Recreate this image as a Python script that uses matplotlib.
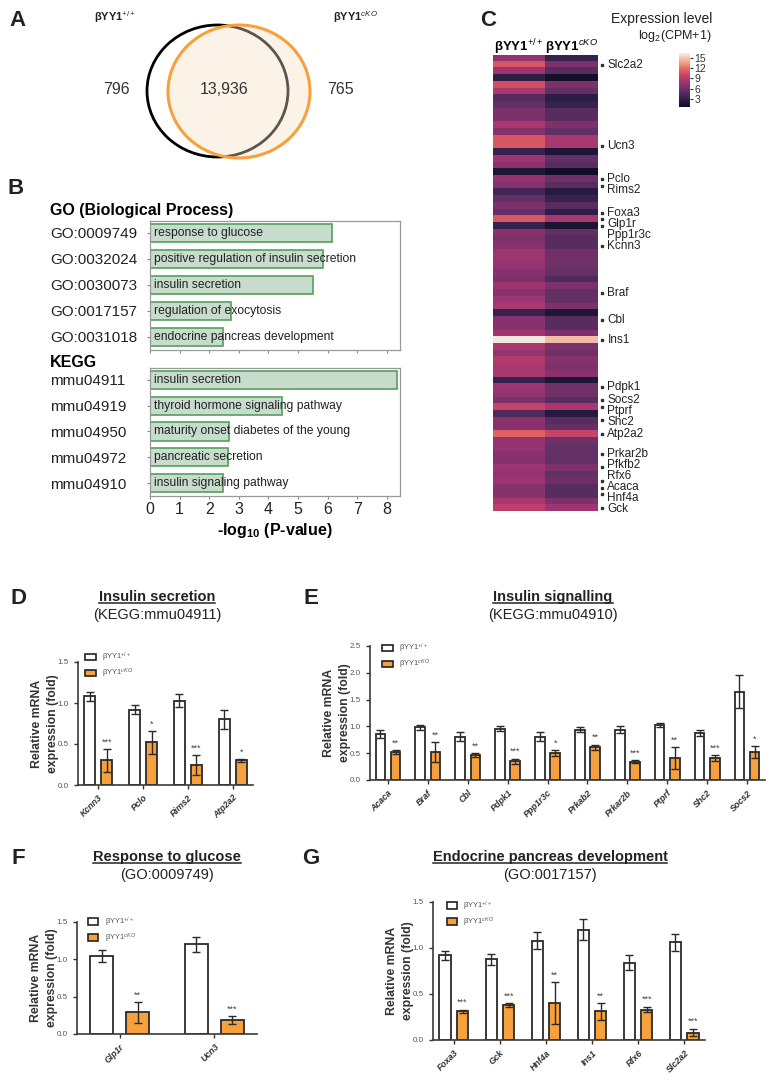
import numpy as np
import matplotlib
matplotlib.use("Agg")
import matplotlib.pyplot as plt
from matplotlib.colors import LinearSegmentedColormap
from matplotlib.patches import Ellipse, Patch
from matplotlib.lines import Line2D
from matplotlib.transforms import blended_transform_factory

plt.rcParams['font.family'] = ['Liberation Sans', 'DejaVu Sans']
plt.rcParams['mathtext.fontset'] = 'custom'
plt.rcParams['mathtext.rm'] = 'Liberation Sans'
plt.rcParams['mathtext.it'] = 'Liberation Sans:italic'
plt.rcParams['mathtext.bf'] = 'Liberation Sans:bold'

WT_LABEL = "βYY1$^{+/+}$"
KO_LABEL = "βYY1$^{cKO}$"
ORANGE = '#f7a03e'

# --- A: Venn counts
only_wt = 796
shared = 13936
only_ko = 765

# --- B: enrichment
go_ids = ["GO:0009749", "GO:0032024", "GO:0030073", "GO:0017157", "GO:0031018"]
go_terms = ["response to glucose", "positive regulation of insulin secretion",
            "insulin secretion", "regulation of exocytosis", "endocrine pancreas development"]
go_vals = [6.14, 5.86, 5.5, 2.74, 2.48]
kegg_ids = ["mmu04911", "mmu04919", "mmu04950", "mmu04972", "mmu04910"]
kegg_terms = ["insulin secretion", "thyroid hormone signaling pathway",
              "maturity onset diabetes of the young", "pancreatic secretion",
              "insulin signaling pathway"]
kegg_vals = [8.36, 4.45, 2.68, 2.63, 2.48]

# --- C: heatmap, log2(CPM+1), one value per row
hm_wt = [7.5, 11, 8, 3, 10.5, 8.5, 5, 5.5, 6.5, 6.5,
         8.5, 7, 11, 11, 3.5, 8, 7, 2, 7.5, 7,
         4, 5.5, 6.5, 5.5, 11, 3.5, 7, 6.5, 7, 8,
         8, 7.5, 7, 6.5, 8, 7, 8, 8.5, 3.5, 7,
         7, 8, 16, 8.5, 7.5, 9, 8.5, 8.5, 3.5, 8,
         7.5, 6.5, 10, 4.5, 7, 7, 11.5, 7.5, 7.5, 7,
         7, 8, 7.5, 8, 7, 7, 8.5, 9.5]
hm_ko = [3.5, 6.5, 5, 1.2, 6.5, 5.5, 2.8, 3.5, 5, 5,
         6.5, 5.5, 8.5, 8.5, 2, 5.5, 5, 1, 6, 5,
         2.5, 3.5, 5, 3, 8.5, 1.8, 5.5, 5, 5, 6,
         6, 6, 5.5, 4.5, 6.5, 5.5, 5.5, 6.5, 2, 5,
         5, 6.5, 14.5, 6.5, 6, 7, 6.5, 7, 2, 6,
         6, 5, 8.5, 2.5, 5, 5.5, 10, 6, 5.5, 5.5,
         5.5, 6.5, 5.5, 6, 5, 5, 6.5, 8]
label_genes = ["Slc2a2", "Ucn3", "Pclo", "Rims2", "Foxa3", "Glp1r", "Ppp1r3c", "Kcnn3",
               "Braf", "Cbl", "Ins1", "Pdpk1", "Socs2", "Ptprf", "Shc2", "Atp2a2",
               "Prkar2b", "Pfkfb2", "Rfx6", "Acaca", "Hnf4a", "Gck"]
label_rows = [1, 13, 18, 19, 23, 24, 25, 28,
              35, 39, 42, 49, 51, 52, 54, 56,
              59, 61, 63, 64, 65, 67]

# --- D: insulin secretion qPCR
d_genes = ["Kcnn3", "Pclo", "Rims2", "Atp2a2"]
d_wt = [1.08, 0.92, 1.03, 0.80]
d_wt_sd = [0.06, 0.06, 0.08, 0.12]
d_ko = [0.30, 0.52, 0.24, 0.30]
d_ko_sd = [0.14, 0.14, 0.12, 0.02]
d_sig = ["***", "*", "***", "*"]

# --- E: insulin signalling qPCR
e_genes = ["Acaca", "Braf", "Cbl", "Pdpk1", "Ppp1r3c", "Prkab2", "Prkar2b", "Ptprf", "Shc2", "Socs2"]
e_wt = [0.86, 0.98, 0.81, 0.96, 0.81, 0.94, 0.94, 1.02, 0.88, 1.65]
e_wt_sd = [0.08, 0.05, 0.09, 0.05, 0.09, 0.05, 0.07, 0.04, 0.06, 0.30]
e_ko = [0.52, 0.52, 0.46, 0.35, 0.50, 0.61, 0.34, 0.41, 0.41, 0.52]
e_ko_sd = [0.04, 0.18, 0.04, 0.05, 0.06, 0.05, 0.03, 0.20, 0.05, 0.11]
e_sig = ["**", "**", "**", "***", "*", "**", "***", "**", "***", "*"]

# --- F: response to glucose qPCR
f_genes = ["Glp1r", "Ucn3"]
f_wt = [1.05, 1.20]
f_wt_sd = [0.08, 0.10]
f_ko = [0.29, 0.19]
f_ko_sd = [0.14, 0.05]
f_sig = ["**", "***"]

# --- G: endocrine pancreas development qPCR
g_genes = ["Foxa3", "Gck", "Hnf4a", "Ins1", "Rfx6", "Slc2a2"]
g_wt = [0.92, 0.88, 1.08, 1.20, 0.84, 1.06]
g_wt_sd = [0.05, 0.06, 0.09, 0.11, 0.08, 0.09]
g_ko = [0.31, 0.38, 0.40, 0.31, 0.33, 0.08]
g_ko_sd = [0.02, 0.02, 0.23, 0.09, 0.03, 0.04]
g_sig = ["***", "***", "**", "**", "***", "***"]

W, H = 772, 1080
fig = plt.figure(figsize=(W / 100, H / 100), dpi=100)


def axes_px(x0, y0, x1, y1):
    return fig.add_axes([x0 / W, 1 - y1 / H, (x1 - x0) / W, (y1 - y0) / H])


def text_px(x, y, s, **kw):
    return fig.text(x / W, 1 - y / H, s, **kw)


for letter, x, y in [("A", 18, 20), ("B", 16, 188), ("C", 488, 20),
                     ("D", 18, 598), ("E", 311, 598), ("F", 18, 858), ("G", 311, 858)]:
    text_px(x, y, letter, fontsize=16, fontweight='bold', ha='center', va='center', color='#222')

# ---------------- A: Venn
av = axes_px(0, 0, 480, 170)
av.set_xlim(0, 480)
av.set_ylim(170, 0)
av.axis('off')
av.add_patch(Ellipse((217.5, 91), 141, 132, fill=False, ec='black', lw=2, zorder=1))
av.add_patch(Ellipse((239, 91.5), 142, 133, fc=(0.97, 0.88, 0.77), alpha=0.38, ec='none', zorder=2))
av.add_patch(Ellipse((239, 91.5), 142, 133, fill=False, ec=ORANGE, lw=2.2, zorder=3))
av.text(116, 90, f"{only_wt}", fontsize=11.5, ha='center', va='center', color='#333')
av.text(224, 90, f"{shared:,}", fontsize=11.5, ha='center', va='center', color='#333')
av.text(340, 90, f"{only_ko}", fontsize=11.5, ha='center', va='center', color='#333')
av.text(115, 17, WT_LABEL, fontsize=8, fontweight='bold', ha='center', va='center', color='#222')
av.text(355, 17, KO_LABEL, fontsize=8, fontweight='bold', ha='center', va='center', color='#222')


# ---------------- B: enrichment bars
def enrich(box, ids, terms, vals, bottom):
    ax = axes_px(*box)
    y = np.arange(len(ids))
    ax.barh(y, vals, height=0.7, color='#c7dccd', edgecolor='#55a05c', lw=1.2)
    ax.set_xlim(0, 8.45)
    ax.set_ylim(len(ids) - 0.5, -0.46)
    for yi, t in zip(y, terms):
        ax.text(0.15, yi, t, va='center', fontsize=8.7, color='#222')
    ax.set_yticks(y, ids)
    ax.tick_params(axis='y', length=2, pad=70, labelsize=11, colors='#888', labelcolor='#222')
    for lbl in ax.get_yticklabels():
        lbl.set_ha('left')
    ax.set_xticks(range(9))
    ax.tick_params(axis='x', length=2, colors='#888', labelcolor='#222', labelsize=11.5,
                   labelbottom=bottom, pad=2)
    for s in ax.spines.values():
        s.set_color('#999')
        s.set_linewidth(0.9)
    return ax


enrich((150, 221, 400, 350), go_ids, go_terms, go_vals, False)
axk = enrich((150, 368, 400, 496), kegg_ids, kegg_terms, kegg_vals, True)
axk.set_xlabel(r"-log$_{\bf 10}$ (P-value)", fontsize=11.5, fontweight='bold', labelpad=3)
text_px(50, 210, "GO (Biological Process)", fontsize=11.5, fontweight='bold', va='center')
text_px(50, 362, "KEGG", fontsize=11.5, fontweight='bold', va='center')

# ---------------- C: heatmap
cmap = LinearSegmentedColormap.from_list("expr", [
    (0.0, '#0f0d26'), (0.15, '#30204a'), (0.3, '#633066'), (0.45, '#9a3471'),
    (0.58, '#c4416a'), (0.7, '#e2655f'), (0.82, '#f09e82'), (1.0, '#f7efe6')])
ah = axes_px(493, 55, 598, 511)
im = ah.imshow(np.column_stack([hm_wt, hm_ko]), aspect='auto', cmap=cmap,
               vmin=0.8, vmax=16.3, interpolation='nearest')
ah.set_xticks([])
ah.set_yticks([])
for s in ah.spines.values():
    s.set_visible(False)
text_px(519, 47, WT_LABEL, fontsize=9.5, fontweight='bold', ha='center', va='center')
text_px(572, 47, KO_LABEL, fontsize=9.5, fontweight='bold', ha='center', va='center')

# simple label repel
pos = np.array(label_rows, dtype=float)
gap = 1.65
for i in range(1, len(pos)):
    pos[i] = max(pos[i], pos[i - 1] + gap)
pos[-1] = min(pos[-1], len(hm_wt) - 0.8)
for i in range(len(pos) - 2, -1, -1):
    pos[i] = min(pos[i], pos[i + 1] - gap)

trans = blended_transform_factory(ah.transAxes, ah.transData)
for g, r, ty in zip(label_genes, label_rows, pos):
    ah.plot(1.04, r, 's', ms=2, color='#333', transform=trans, clip_on=False)
    ah.text(1.09, ty, g, transform=trans, va='center', fontsize=8.5, color='#222')

cax = axes_px(679, 53, 690, 107)
cb = fig.colorbar(im, cax=cax, ticks=[3, 6, 9, 12, 15])
cb.outline.set_visible(False)
cax.tick_params(labelsize=7.5, length=2, pad=1, colors='#333')
text_px(712, 19, "Expression level", fontsize=10, ha='right', va='center', color='#222')
text_px(712, 36, "log$_2$(CPM+1)", fontsize=9, ha='right', va='center', color='#222')


# ---------------- D-G: qPCR bars
def qpcr(box, genes, wt, wt_sd, ko, ko_sd, sig, ymax, ylab_x, leg_xy):
    ax = axes_px(*box)
    x = np.arange(len(genes))
    ekw = dict(ecolor='#2a2a2a', elinewidth=1, capsize=3, capthick=1)
    ax.bar(x - 0.19, wt, 0.24, yerr=wt_sd, color='white', edgecolor='#2a2a2a', lw=1.3,
           error_kw=ekw, label=WT_LABEL)
    ax.bar(x + 0.19, ko, 0.24, yerr=ko_sd, color=ORANGE, edgecolor='#2a2a2a', lw=1.3,
           error_kw=ekw, label=KO_LABEL)
    for xi, v, e, s in zip(x, ko, ko_sd, sig):
        ax.text(xi + 0.19, v + e + 0.03 * ymax / 1.5, s, ha='center', va='bottom',
                fontsize=6.5, color='#444')
    ax.set_xlim(-0.45, len(genes) - 0.55)
    ax.set_ylim(0, ymax)
    ax.set_yticks(np.arange(0, ymax + 0.01, 0.5))
    ax.yaxis.set_major_formatter(matplotlib.ticker.FormatStrFormatter('%.1f'))
    ax.set_xticks(x, genes)
    for lbl in ax.get_xticklabels():
        lbl.set_rotation(45)
        lbl.set_ha('right')
        lbl.set_rotation_mode('anchor')
        lbl.set_fontstyle('italic')
        lbl.set_fontweight('bold')
    ax.tick_params(axis='x', labelsize=6.4, length=3, width=1, colors='#333', pad=3)
    ax.tick_params(axis='y', labelsize=5.8, length=3, width=1, colors='#333', labelcolor='#555')
    for s in ['top', 'right']:
        ax.spines[s].set_visible(False)
    for s in ['left', 'bottom']:
        ax.spines[s].set_color('#3a3a3a')
        ax.spines[s].set_linewidth(1.2)
    handles = [Patch(facecolor='white', edgecolor='#222', lw=1.2, label=WT_LABEL),
               Patch(facecolor=ORANGE, edgecolor='#222', lw=1.2, label=KO_LABEL)]
    leg = ax.legend(handles=handles, loc='upper left', bbox_to_anchor=leg_xy, frameon=False,
                    fontsize=5.5, handlelength=1.4, handleheight=0.9, labelspacing=0.35,
                    borderpad=0, borderaxespad=0, handletextpad=0.8)
    for t in leg.get_texts():
        t.set_color('#555')
    yc = (box[1] + box[3]) / 2
    text_px(ylab_x, yc, "Relative mRNA\nexpression (fold)", rotation=90, ha='center',
            va='center', fontsize=8.8, fontweight='bold', color='#333', linespacing=1.4)
    return ax


qpcr((78, 662, 253, 785), d_genes, d_wt, d_wt_sd, d_ko, d_ko_sd, d_sig, 1.5, 45, (0.04, 1.09))
qpcr((370, 646, 765, 780), e_genes, e_wt, e_wt_sd, e_ko, e_ko_sd, e_sig, 2.5, 337, (0.03, 1.03))
qpcr((77, 922, 257, 1034), f_genes, f_wt, f_wt_sd, f_ko, f_ko_sd, f_sig, 1.5, 44, (0.06, 1.06))
qpcr((433, 902, 705, 1040), g_genes, g_wt, g_wt_sd, g_ko, g_ko_sd, g_sig, 1.5, 400, (0.05, 1.02))

titles = []
for cx, cy, t, sub in [(157, 597, "Insulin secretion", "(KEGG:mmu04911)"),
                       (553, 597, "Insulin signalling", "(KEGG:mmu04910)"),
                       (167, 857, "Response to glucose", "(GO:0009749)"),
                       (550, 857, "Endocrine pancreas development", "(GO:0017157)")]:
    titles.append(text_px(cx, cy, t, fontsize=10.5, fontweight='bold', ha='center',
                          va='center', color='#222'))
    text_px(cx, cy + 18, sub, fontsize=10.5, ha='center', va='center', color='#222')

fig.canvas.draw()
r = fig.canvas.get_renderer()
for t in titles:
    bb = t.get_window_extent(r)
    yl = (bb.y0 + 1.5) / H
    fig.add_artist(Line2D([bb.x0 / W, bb.x1 / W], [yl, yl], transform=fig.transFigure,
                          color='#222', lw=1.1))

fig.savefig("out.png", dpi=100)
